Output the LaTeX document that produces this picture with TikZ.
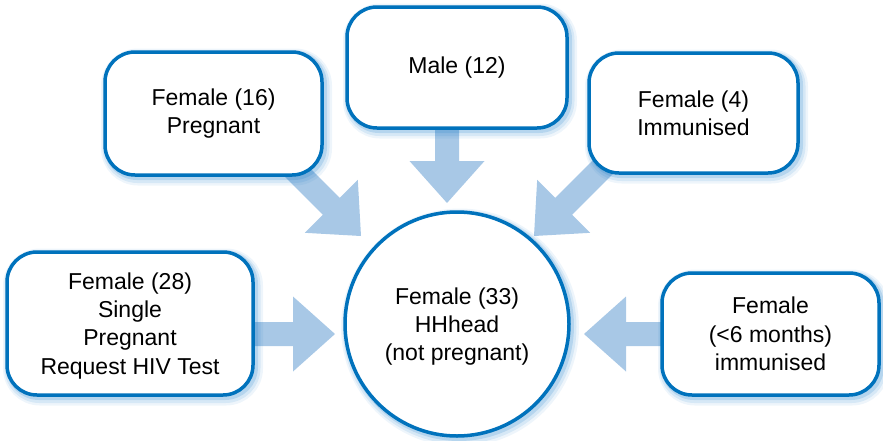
\documentclass[tikz,border=0pt]{standalone}
\usepackage{fontspec}
\setmainfont{Liberation Sans}
\usetikzlibrary{shadows,backgrounds}

\definecolor{edgeblue}{RGB}{0,114,188}
\definecolor{arrowblue}{RGB}{168,200,230}
\definecolor{glowblue}{RGB}{20,120,200}

\tikzset{
  glow/.style={
    general shadow={draw=glowblue, draw opacity=0.07, line width=14pt, shadow xshift=3pt, shadow yshift=-3.5pt},
    general shadow={draw=glowblue, draw opacity=0.11, line width=10pt, shadow xshift=2.5pt, shadow yshift=-3pt},
    general shadow={draw=glowblue, draw opacity=0.17, line width=6pt, shadow xshift=2pt, shadow yshift=-2pt}},
  labeltext/.style={align=center, font=\fontsize{23}{28.3}\selectfont, inner sep=0pt},
  card/.style={glow, labeltext, rectangle, draw=edgeblue, line width=3.5pt, fill=white, rounded corners=30pt},
  hubnode/.style={glow, labeltext, circle, draw=edgeblue, line width=3.5pt, fill=white, minimum size=224pt},
  blockarrow/.style={fill=arrowblue}
}

% block arrow: tip coordinate, direction angle, total length
\newcommand{\blockarrowat}[3]{%
  \begin{scope}[shift={(#1)}, rotate=#2]
    \fill[blockarrow] (0,0) -- (-42,37.5) -- (-42,12) -- (-#3,12)
      -- (-#3,-12) -- (-42,-12) -- (-42,-37.5) -- cycle;
  \end{scope}}

\begin{document}
\begin{tikzpicture}[x=1pt, y=-1pt]
  \useasboundingbox (0,0) rectangle (883,440);

  % source boxes and the central circle
  \node[card, minimum width=217pt, minimum height=123pt] (preg) at (213.5,113.5) {Female (16)\\Pregnant};
  \node[card, minimum width=220pt, minimum height=121pt] (male) at (457,67.5) {Male (12)};
  \node[card, minimum width=209pt, minimum height=120pt] (immun) at (693.5,113) {Female (4)\\Immunised};
  \node[card, text depth=0pt, minimum width=246pt, minimum height=143pt] (single) at (130,323.5) {Female (28)\\Single\\Pregnant\\Request HIV Test};
  \node[card, minimum width=217pt, minimum height=122pt] (infant) at (770.5,334) {Female\\(<6 months)\\immunised};
  \node[hubnode, text depth=0pt] (hub) at (457,324) {Female (33)\\HHhead\\(not pregnant)};

  % arrow tips in front of the circle
  \coordinate (tipPreg) at (361,236);
  \coordinate (tipMale) at (447,203);
  \coordinate (tipImmun) at (534,236);
  \coordinate (tipSingle) at (335,334);
  \coordinate (tipInfant) at (584,334);

  % block arrows, tails tucked under the boxes
  \begin{scope}[on background layer]
    \blockarrowat{tipPreg}{-45}{105}
    \blockarrowat{tipMale}{-90}{82}
    \blockarrowat{tipImmun}{-135}{105}
    \blockarrowat{tipSingle}{0}{90}
    \blockarrowat{tipInfant}{180}{85}
  \end{scope}
\end{tikzpicture}
\end{document}
